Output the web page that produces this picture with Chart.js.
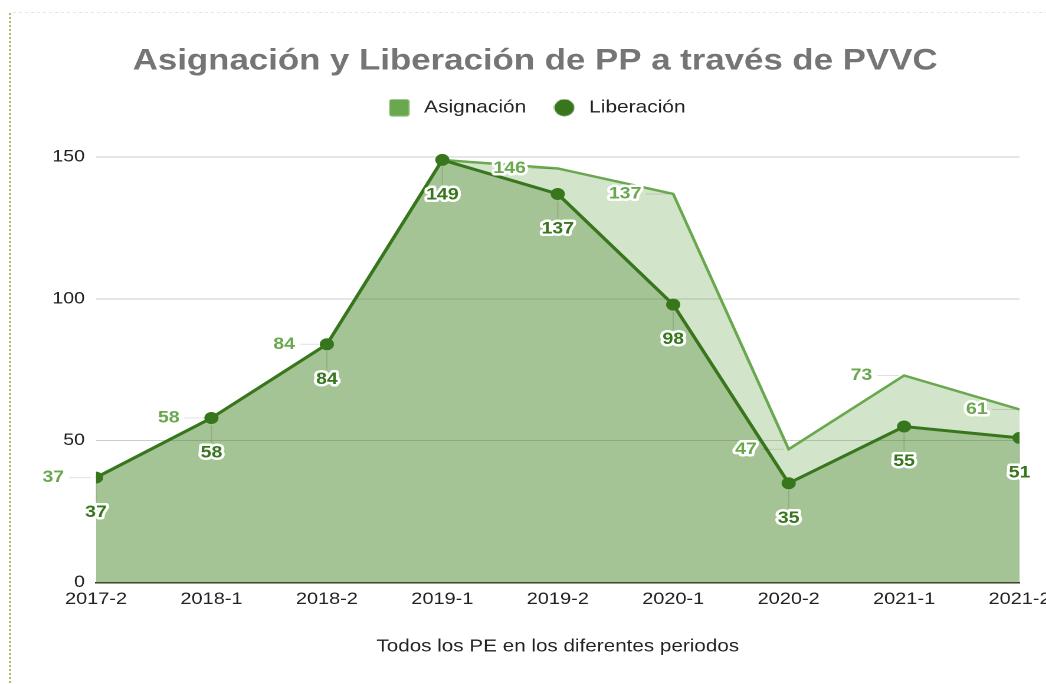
<!DOCTYPE html>
<html>
<head>
<meta charset="utf-8">
<script src="https://cdn.jsdelivr.net/npm/chart.js@4.4.1/dist/chart.umd.min.js"></script>
<style>
  html, body { margin:0; padding:0; background:#fff; width:1046px; height:684px; overflow:hidden; }
  #wrap { position:absolute; left:0; top:0; width:907px; height:684px; transform:scaleX(1.18); transform-origin:0 0; }
  #vline { position:absolute; left:9px; top:13px; width:2px; height:671px;
    background:repeating-linear-gradient(to bottom, #a3c163 0 2px, transparent 2px 4px); }
  #hline { position:absolute; left:13px; top:12px; width:1033px; height:1px;
    background:repeating-linear-gradient(to right, #e2e9d4 0 3px, transparent 3px 6px); }
</style>
</head>
<body>
<div id="vline"></div>
<div id="hline"></div>
<div id="wrap"><canvas id="c" width="907" height="684"></canvas></div>
<script>
const categories = ['2017-2','2018-1','2018-2','2019-1','2019-2','2020-1','2020-2','2021-1','2021-2'];
const asignacion = [37, 58, 84, 149, 146, 137, 47, 73, 61];
const liberacion = [37, 58, 84, 149, 137, 98, 35, 55, 51];
const yTickValues = [0, 50, 100, 150];
const asignacionHiddenLabels = ['2019-1'];

const FONT = '"Liberation Sans", Arial, Helvetica, sans-serif';
const C_ASIG = '#6aa84f';
const C_LIB = '#38761d';

function makeIcon(kind) {
  const c = document.createElement('canvas');
  c.width = 18; c.height = 18;
  const g = c.getContext('2d');
  if (kind === 'square') {
    g.fillStyle = C_ASIG;
    g.beginPath();
    if (g.roundRect) g.roundRect(0.5, 0.5, 17, 17, 2); else g.rect(0.5, 0.5, 17, 17);
    g.fill();
  } else {
    g.fillStyle = C_LIB;
    g.beginPath(); g.arc(9, 9, 8.5, 0, Math.PI * 2); g.fill();
  }
  return c;
}
const iconSquare = makeIcon('square');
const iconCircle = makeIcon('circle');

const pointLabels = {
  id: 'pointLabels',
  afterDatasetsDraw(chart) {
    const ctx = chart.ctx;
    ctx.save();
    ctx.font = 'bold 16.5px ' + FONT;
    ctx.textBaseline = 'middle';
    ctx.lineJoin = 'round';
    chart.data.datasets.forEach((ds, di) => {
      const meta = chart.getDatasetMeta(di);
      meta.data.forEach((pt, i) => {
        const txt = String(ds.data[i]);
        if (di === 0) {
          if (asignacionHiddenLabels.includes(categories[i])) return;
          const xr = pt.x - 27;
          ctx.strokeStyle = 'rgba(0,0,0,0.12)'; ctx.lineWidth = 1;
          ctx.beginPath(); ctx.moveTo(xr + 4, pt.y); ctx.lineTo(pt.x - 4, pt.y); ctx.stroke();
          ctx.textAlign = 'right';
          ctx.lineWidth = 5; ctx.strokeStyle = '#fff';
          ctx.strokeText(txt, xr, pt.y);
          ctx.fillStyle = C_ASIG;
          ctx.fillText(txt, xr, pt.y);
        } else {
          const ly = pt.y + 35;
          ctx.strokeStyle = 'rgba(0,0,0,0.12)'; ctx.lineWidth = 1;
          ctx.beginPath(); ctx.moveTo(pt.x, pt.y + 7); ctx.lineTo(pt.x, ly - 10); ctx.stroke();
          ctx.textAlign = 'center';
          ctx.lineWidth = 5; ctx.strokeStyle = '#fff';
          ctx.strokeText(txt, pt.x, ly);
          ctx.fillStyle = C_LIB;
          ctx.fillText(txt, pt.x, ly);
        }
      });
    });
    ctx.restore();
  }
};

new Chart(document.getElementById('c'), {
  type: 'line',
  data: {
    labels: categories,
    datasets: [
      {
        label: 'Asignación',
        data: asignacion,
        borderColor: C_ASIG,
        backgroundColor: 'rgba(106,168,79,0.3)',
        borderWidth: 2.5,
        fill: 'origin',
        pointRadius: 0,
        pointHoverRadius: 0,
        tension: 0,
        order: 1,
        clip: {left: 0, right: 0, top: false, bottom: 0}
      },
      {
        label: 'Liberación',
        data: liberacion,
        borderColor: C_LIB,
        backgroundColor: 'rgba(56,118,29,0.3)',
        pointBackgroundColor: C_LIB,
        pointBorderColor: C_LIB,
        borderWidth: 3,
        fill: 'origin',
        pointRadius: 6,
        pointBorderWidth: 0,
        tension: 0,
        order: 0,
        clip: {left: 0, right: 0, top: false, bottom: 0}
      }
    ]
  },
  options: {
    responsive: false,
    animation: false,
    devicePixelRatio: 2,
    layout: { padding: { left: 43, right: 43, top: 0, bottom: 0 } },
    plugins: {
      title: {
        display: true,
        text: 'Asignación y Liberación de PP a través de PVVC',
        color: '#757575',
        font: { family: FONT, size: 29.5, weight: 'bold', lineHeight: 1.2 },
        padding: { top: 43.5, bottom: 0 }
      },
      subtitle: {
        display: true,
        text: ' ',
        weight: 100,
        color: 'rgba(0,0,0,0)',
        font: { family: FONT, size: 10, lineHeight: 1 },
        padding: { top: 20.5, bottom: 0 }
      },
      legend: {
        display: true,
        position: 'top',
        labels: {
          color: '#222',
          font: { family: FONT, size: 17.7 },
          padding: 20,
          usePointStyle: true,
          pointStyleWidth: 24.5,
          sort: (a, b) => a.datasetIndex - b.datasetIndex,
          generateLabels(chart) {
            const items = Chart.defaults.plugins.legend.labels.generateLabels(chart);
            items.forEach(it => {
              it.pointStyle = it.datasetIndex === 0 ? iconSquare : iconCircle;
              it.fillStyle = it.datasetIndex === 0 ? C_ASIG : C_LIB;
              it.strokeStyle = 'rgba(0,0,0,0)';
              it.lineWidth = 0;
            });
            return items;
          }
        }
      },
      tooltip: { enabled: false }
    },
    scales: {
      x: {
        offset: false,
        grid: { display: false, drawTicks: false },
        border: { display: true, color: '#333', width: 1.5 },
        ticks: { color: '#222', font: { family: FONT, size: 16.9 }, padding: 6.6, maxRotation: 0, autoSkip: false },
        title: {
          display: true,
          text: 'Todos los PE en los diferentes periodos',
          color: '#222',
          font: { family: FONT, size: 17.5, lineHeight: 1.2 },
          padding: { top: 0, bottom: 27 }
        },
        afterFit(scale) { scale.height = 101.5; }
      },
      y: {
        min: 0,
        max: 150,
        grid: { color: '#cccccc', lineWidth: 1, drawTicks: false },
        border: { display: false },
        ticks: { color: '#222', font: { family: FONT, size: 16.5 }, padding: 9.4 },
        afterBuildTicks(scale) { scale.ticks = yTickValues.map(v => ({ value: v })); },
        afterFit(scale) { scale.width = 38.36; }
      }
    }
  },
  plugins: [pointLabels]
});
</script>
</body>
</html>
